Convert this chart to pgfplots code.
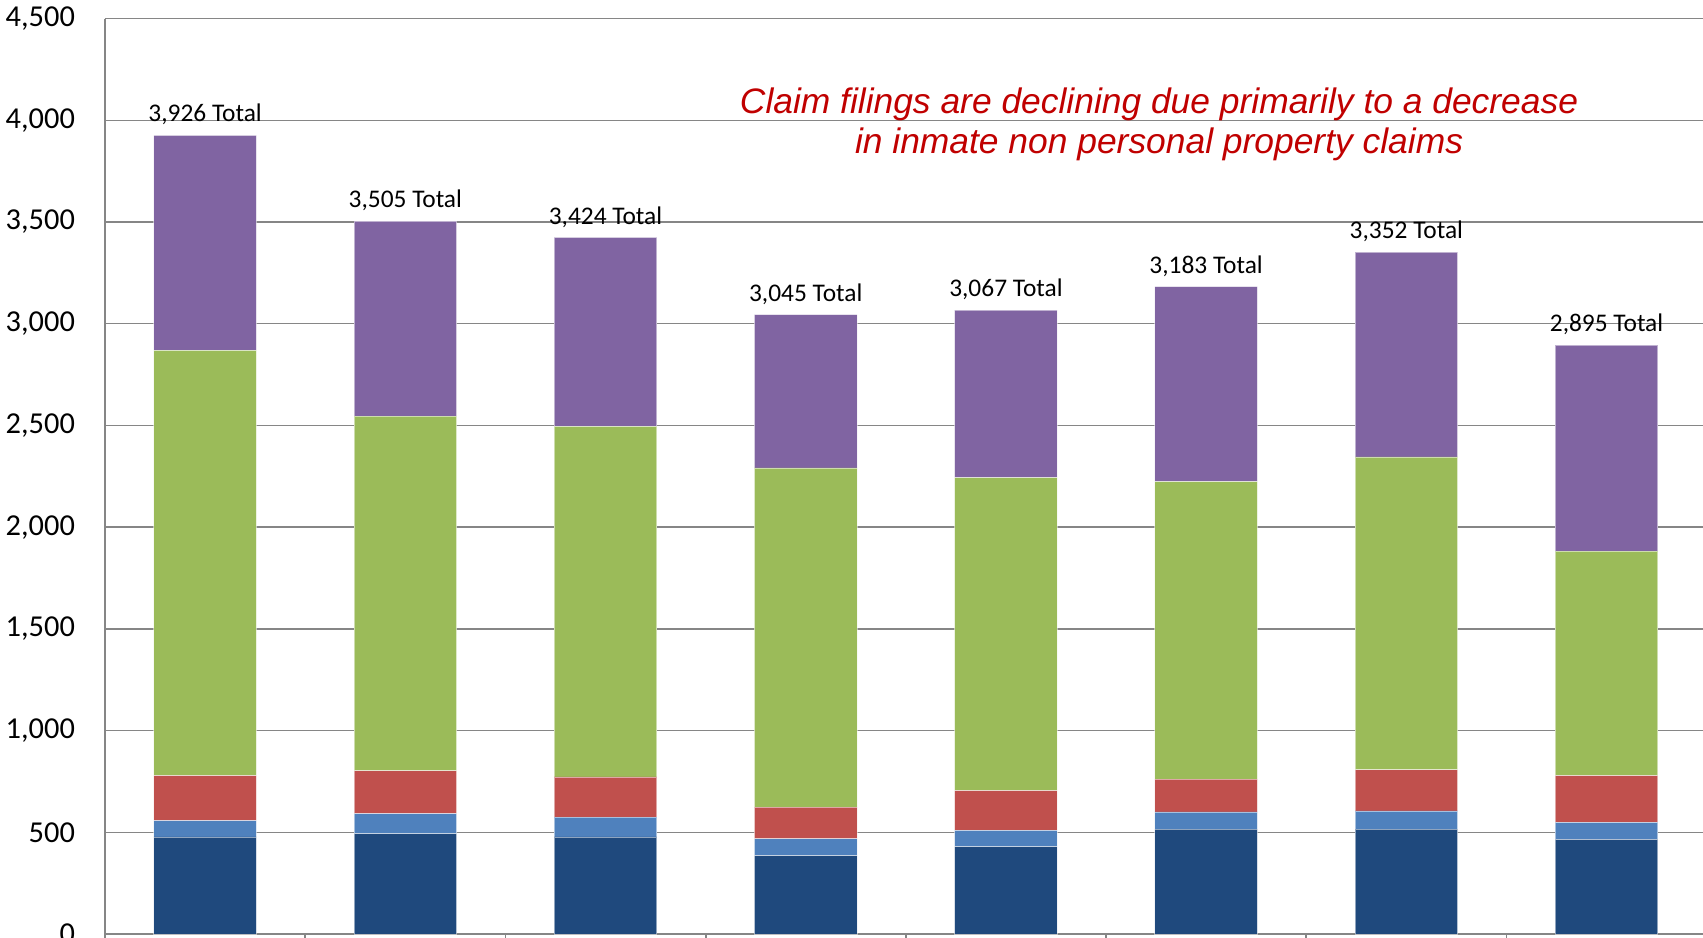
\documentclass[border=0pt]{standalone}
\usepackage{pgfplots}
\pgfplotsset{compat=1.18}
\usepackage{fontspec}
\setmainfont{Carlito}
\newfontfamily\titlefont{Liberation Sans}
\definecolor{gridgray}{HTML}{868686}
\definecolor{sDark}{HTML}{1F497D}
\definecolor{sLight}{HTML}{4F81BD}
\definecolor{sRed}{HTML}{C0504D}
\definecolor{sGreen}{HTML}{9BBB59}
\definecolor{sPurple}{HTML}{8064A2}
\definecolor{titlered}{HTML}{C00000}
\begin{document}
\begin{tikzpicture}
\begin{axis}[name=ax,scale only axis,width=800.8pt,height=457.7pt,
 ybar stacked,bar width=51.3pt,
 xmin=-0.5,xmax=7.5,ymin=0,ymax=4500,
 xtick={-0.5,0.5,...,7.5},xticklabels={},
 ytick={0,500,...,4500},scaled y ticks=false,
 /pgf/number format/assume math mode=true,
 /pgf/number format/1000 sep={,},
 axis x line*=bottom,axis y line*=left,
 axis line style={draw=gridgray,line width=0.9pt,-},
 tick align=outside,x tick style={draw=gridgray,line width=0.9pt},
 major tick length=6pt,
 ytick style={draw=none},
 ymajorgrids,grid style={draw=gridgray,line width=0.75pt},
 yticklabel style={font=\fontsize{15.2}{17}\selectfont,xshift=-5.5pt},
 every axis plot/.append style={draw=white,draw opacity=0.5,line width=0.4pt},
 clip=false]
\addplot[fill=sDark] coordinates {(0,477)(1,493)(2,477)(3,385)(4,429)(5,515)(6,515)(7,465)};
\addplot[fill=sLight] coordinates {(0,80)(1,99)(2,97)(3,83)(4,81)(5,85)(6,90)(7,84)};
\addplot[fill=sRed] coordinates {(0,222)(1,210)(2,198)(3,156)(4,195)(5,162)(6,202)(7,230)};
\addplot[fill=sGreen] coordinates {(0,2090)(1,1744)(2,1724)(3,1667)(4,1538)(5,1462)(6,1538)(7,1103)};
\addplot[fill=sPurple] coordinates {(0,1057)(1,959)(2,928)(3,754)(4,824)(5,959)(6,1007)(7,1013)};
% hairline series on top, only carries the total labels
\addplot[draw opacity=0,fill opacity=0,fill=white,point meta=explicit,
 nodes near coords={\pgfmathprintnumber{\pgfplotspointmeta}~Total},
 every node near coord/.append style={anchor=base,yshift=6.7pt,font=\fontsize{12.7}{15}\selectfont,text=black,text opacity=1}]
 coordinates {(0,0.01)[3926](1,0.01)[3505](2,0.01)[3424](3,0.01)[3045](4,0.01)[3067](5,0.01)[3183](6,0.01)[3352](7,0.01)[2895]};
\node[anchor=base,text=titlered,font=\titlefont\itshape\fontsize{17.7}{20}\selectfont] at (axis cs:4.765,4035) {Claim filings are declining due primarily to a decrease};
\node[anchor=base,text=titlered,font=\titlefont\itshape\fontsize{17.7}{20}\selectfont] at (axis cs:4.765,3836) {in inmate non personal property claims};
\end{axis}
\pgfresetboundingbox
\useasboundingbox ([xshift=-52.5pt,yshift=-1.5pt]ax.south west) rectangle ([xshift=-1.8pt,yshift=9.3pt]ax.north east);
\end{tikzpicture}
\end{document}
